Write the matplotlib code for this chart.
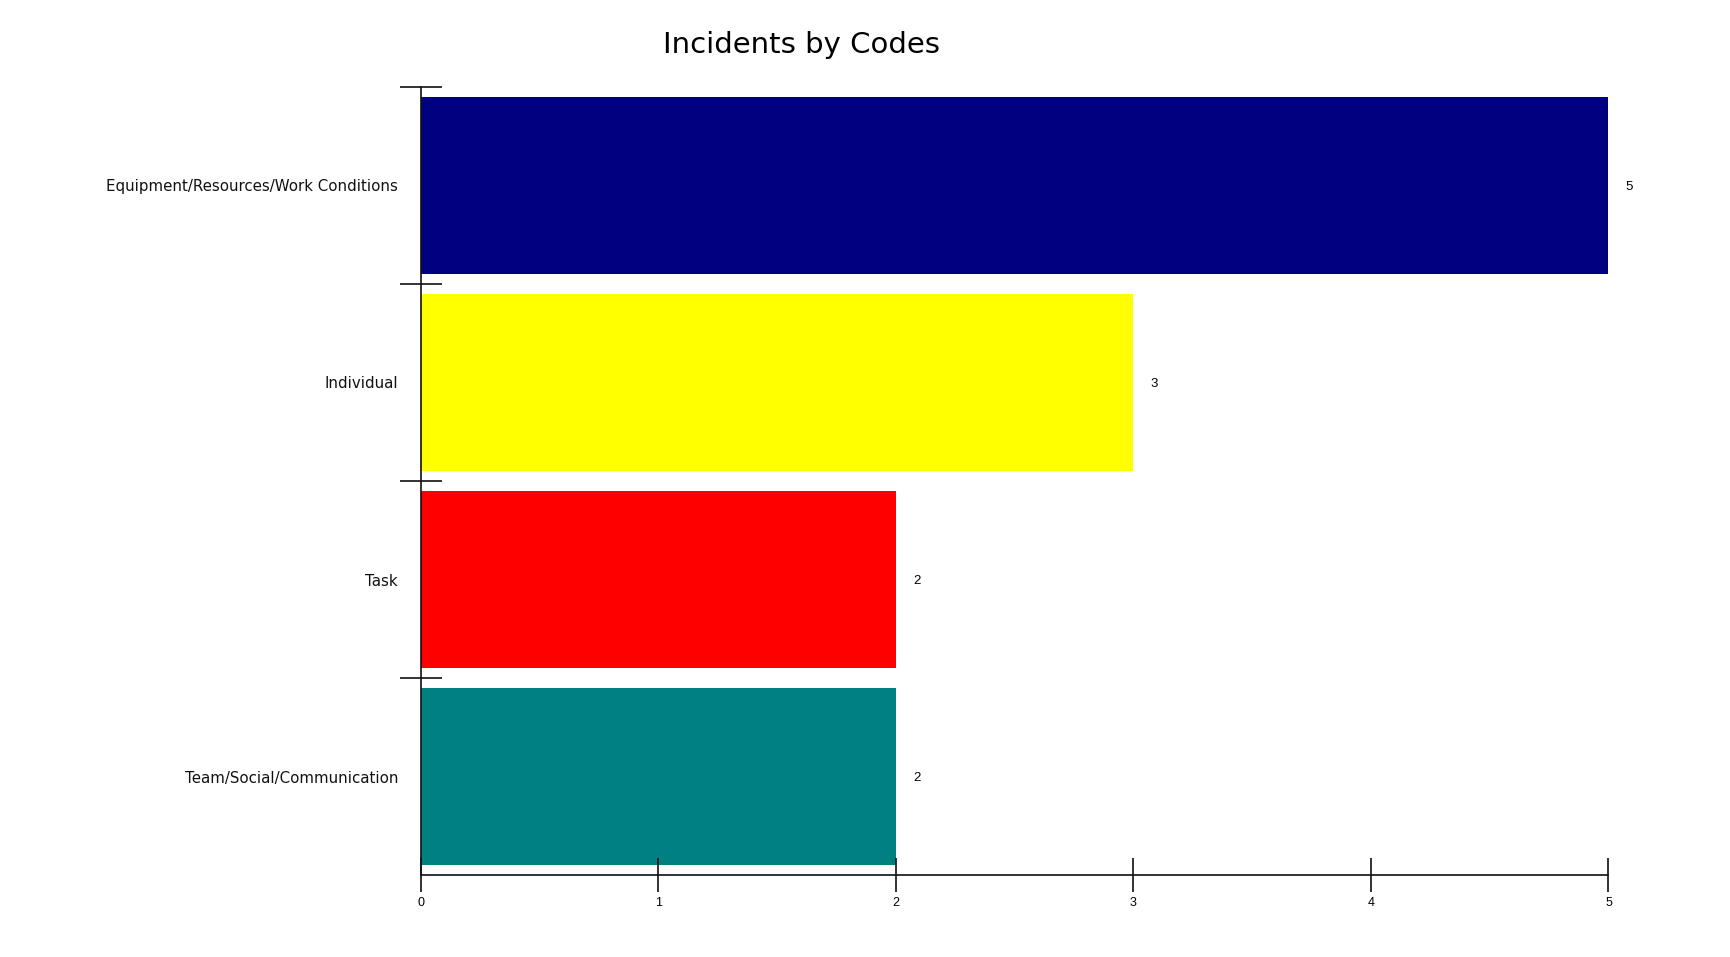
import matplotlib.pyplot as plt
from matplotlib.ticker import FixedLocator

# Categories from top to bottom, with their counts
categories = ["Equipment/Resources/Work Conditions", "Individual", "Task",
              "Team/Social/Communication"]
counts = [5, 3, 2, 2]
colors = ["#000080", "#FFFF00", "#FF0000", "#008080"]
xticks = [0, 1, 2, 3, 4, 5]

plt.rcParams["font.family"] = ["Liberation Sans", "DejaVu Sans"]

fig = plt.figure(figsize=(17.31, 9.57), dpi=100)
ax = fig.add_axes([421 / 1731, 1 - 875 / 957, (1608.5 - 421) / 1731, (875 - 87) / 957])

# Draw bottom-up so the first category sits on top
ypos = list(range(len(categories)))[::-1]
bars = ax.barh(ypos, counts, height=0.9, color=colors, linewidth=0)
labs = ax.bar_label(bars, labels=[str(c) for c in counts], padding=12.5, fontsize=9.5)
for t in labs:
    t.set_va("center_baseline")

ax.set_xlim(0, 5)
ax.set_ylim(-0.5, len(categories) - 0.5)

ax.set_yticks(ypos)
ax.set_yticklabels(categories, fontsize=10.8, family="DejaVu Sans", color="#111111")
ax.tick_params(axis="y", which="major", length=0, pad=16.5)
ax.yaxis.set_minor_locator(FixedLocator([0.5, 1.5, 2.5, 3.5]))
ax.tick_params(axis="y", which="minor", direction="inout", length=30, width=1.2,
               color="#111111")

ax.set_xticks(xticks)
ax.tick_params(axis="x", direction="inout", length=24, width=1.2, color="#111111",
               pad=3.5, labelsize=9)

for side in ["top", "right"]:
    ax.spines[side].set_visible(False)
for side in ["left", "bottom"]:
    ax.spines[side].set_linewidth(1.2)
    ax.spines[side].set_color("#111111")

fig.text(802 / 1731, 1 - 45 / 957, "Incidents by Codes", fontsize=21,
         family="DejaVu Sans", ha="center", va="center")

fig.savefig("out.png", dpi=100, facecolor="white")
